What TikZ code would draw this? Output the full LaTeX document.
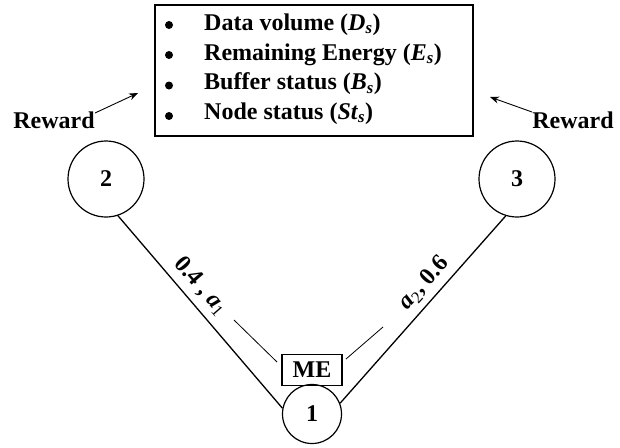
\documentclass[tikz,border=0pt]{standalone}
\usepackage{fontspec}
\setmainfont{Liberation Serif}
\usetikzlibrary{arrows.meta}
\begin{document}
\begin{tikzpicture}[x=1pt,y=-1pt,
  every node/.style={font=\fontsize{24}{28}\selectfont\bfseries},
  state/.style={draw,circle,line width=1.2pt,inner sep=0pt},
  link/.style={line width=1.3pt},
  thin link/.style={line width=0.8pt},
  reward arrow/.style={line width=0.9pt,-{Stealth[length=9pt,width=7pt]}},
  item text/.style={anchor=base west,inner sep=0pt},
  item dot/.style={circle,fill,inner sep=0pt,minimum size=8pt},
  edge label/.style={inner sep=0pt}]
\useasboundingbox (0,0) rectangle (620,447);

% state list box
\draw[line width=1.3pt] (155,5) rectangle (473,136);
\node[item dot]  (b1) at (169,25)  {};
\node[item text] (t1) at (204,30)  {Data volume (\textit{D}\textsubscript{\textit{s}})};
\node[item dot]  (b2) at (169,55)  {};
\node[item text] (t2) at (204,60)  {Remaining Energy (\textit{E}\textsubscript{\textit{s}})};
\node[item dot]  (b3) at (169,85.5)  {};
\node[item text] (t3) at (204,89.5)  {Buffer status (\textit{B}\textsubscript{\textit{s}})};
\node[item dot]  (b4) at (169,116) {};
\node[item text] (t4) at (204,119) {Node status (\textit{St}\textsubscript{\textit{s}})};

% rewards
\node[anchor=base,inner sep=0pt] (rl) at (54,128) {Reward};
\node[anchor=base,inner sep=0pt] (rr) at (573,128) {Reward};
\coordinate (rlt) at (95,113);
\coordinate (rlh) at (138,93);
\coordinate (rrt) at (532,112);
\coordinate (rrh) at (490,97);
\draw[reward arrow] (rlt) -- (rlh);
\draw[reward arrow] (rrt) -- (rrh);

% states
\node[state,minimum size=76pt] (n2) at (106,179) {2};
\node[state,minimum size=76pt] (n3) at (517,179) {3};
\node[state,minimum size=59pt] (n1) at (312,414) {1};
\node[draw,line width=1.2pt,minimum width=60pt,minimum height=31pt,inner sep=0pt] (me) at (312,370) {ME};

% transitions
\draw[link] (n2.-72) -- (n1.169);
\draw[link] (n3.-107) -- (n1.21);
\coordinate (sl1) at (234,320);
\coordinate (sl2) at (277,362);
\coordinate (sr1) at (383,327);
\coordinate (sr2) at (346,359);
\draw[thin link] (sl1) -- (sl2);
\draw[thin link] (sr1) -- (sr2);

\node[edge label,rotate=-49] (lab2) at (201,286) {0.4 , \textit{a}\textsubscript{\mdseries 1}};
\node[edge label,rotate=48] (lab3) at (424,283) {\textit{a}\textsubscript{\mdseries 2}, 0.6};
\end{tikzpicture}
\end{document}
